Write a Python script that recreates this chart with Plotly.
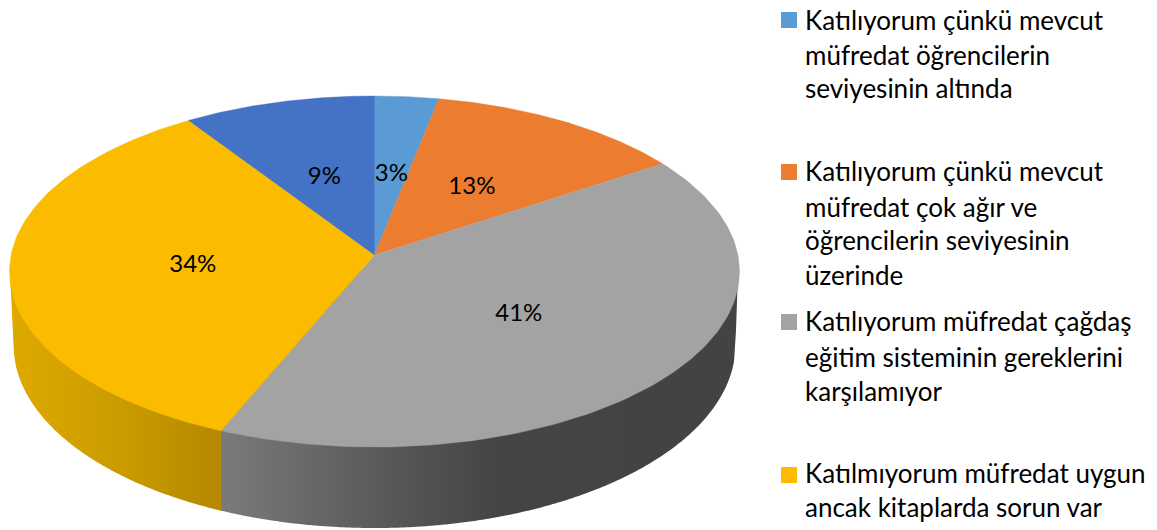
import numpy as np
import plotly.graph_objects as go

# ---- data ----
categories = [
    ["Katılıyorum çünkü mevcut", "müfredat öğrencilerin", "seviyesinin altında"],
    ["Katılıyorum çünkü mevcut", "müfredat çok ağır ve", "öğrencilerin seviyesinin", "üzerinde"],
    ["Katılıyorum müfredat çağdaş", "eğitim sisteminin gereklerini", "karşılamıyor"],
    ["Katılmıyorum müfredat uygun", "ancak kitaplarda sorun var"],
    None,  # fifth entry is cut off in the reference
]
values = [3.1, 12.6, 40.6, 34.4, 9.3]
colors = ["#5B9BD5", "#EB7C30", "#A3A3A3", "#FBBC00", "#4472C4"]

# ---- layout / projection of the tilted pie ----
FONT = "Lato"
W, H = 1157, 530
CX = 374.5
K = 0.094
TOP = dict(y0=255.0, a=363.4, b=174.0)
BOT = dict(y0=327.8, a=359.4, b=181.4)
WALL_START_Y = 271.5
LEG_FS = 26
LAB_FS = 24
LAB_DY = 2.5
legend_line_y = [[20, 55, 88], [171, 207, 240, 275], [321, 357, 391], [473, 507]]
legend_marker_y = [20, 172, 322, 475]
LEG_MARK_X, LEG_TEXT_X = 789, 804

# side-wall shading stops: x pixel position -> colour
yellow_stops = ([0, 120, 222], [(224, 171, 0), (203, 155, 0), (180, 136, 0)])
gray_stops = ([222, 400, 500, 740], [(122, 122, 122), (86, 86, 86), (68, 68, 68), (67, 67, 67)])


def project(theta, r, p):
    u, v = r * np.sin(theta), r * np.cos(theta)
    d = 1 + K * v
    return CX + p["a"] * u / d, p["y0"] - p["b"] * v / d


def shade(x, stops):
    xs, cols = stops
    rgb = [int(round(np.interp(x, xs, [c[i] for c in cols]))) for i in range(3)]
    return "rgb(%d,%d,%d)" % tuple(rgb)


fractions = np.array(values) / sum(values)
edges = np.concatenate([[0], np.cumsum(fractions)]) * 2 * np.pi

fig = go.Figure()

# side wall: vertical strips between the middle of the top face and the lower outline
th = np.radians(np.linspace(60, 300, 961))
bx, by = project(th, 1, BOT)
front = by >= WALL_START_Y + 73
lx, ly = bx[front], by[front]
order = np.argsort(lx)
lx, ly = lx[order], ly[order]
left_x, right_x = 10, 738
lx = np.r_[left_x, lx, right_x]
ly = np.r_[WALL_START_Y, ly, WALL_START_Y]
boundary_x = int(round(project(edges[3], 1, TOP)[0]))

cuts = sorted(set(list(range(left_x, right_x + 1, 2)) + [boundary_x]))
strip_x, strip_y = {}, {}
for x0, x1 in zip(cuts[:-1], cuts[1:]):
    stops = yellow_stops if x0 < boundary_x else gray_stops
    col = shade((x0 + x1) / 2, stops)
    y0, y1 = np.interp([x0, x1], lx, ly)
    strip_x.setdefault(col, []).extend([x0, x1, x1, x0, x0, None])
    strip_y.setdefault(col, []).extend([WALL_START_Y, WALL_START_Y, y1, y0, WALL_START_Y, None])

for col in strip_x:
    fig.add_trace(go.Scatter(x=strip_x[col], y=strip_y[col], mode="lines", fill="toself",
                             fillcolor=col, line=dict(width=0), hoverinfo="skip",
                             showlegend=False))

# top face
for i, val in enumerate(values):
    t = np.linspace(edges[i], edges[i + 1], 120)
    px, py = project(t, 1, TOP)
    ax, ay = project(0.0, 0, TOP)
    fig.add_trace(go.Scatter(x=np.r_[ax, px, ax], y=np.r_[ay, py, ay], mode="lines",
                             fill="toself", fillcolor=colors[i],
                             line=dict(color=colors[i], width=0.4),
                             hoverinfo="skip", showlegend=False))

# percentage labels
for i, val in enumerate(values):
    x, y = project((edges[i] + edges[i + 1]) / 2, 0.5, TOP)
    fig.add_trace(go.Scatter(x=[x], y=[y + LAB_DY], mode="text", text=["%d%%" % round(val)],
                             textposition="middle center",
                             textfont=dict(family=FONT, size=LAB_FS, color="#000000"),
                             hoverinfo="skip", showlegend=False))

# legend
for i, lines in enumerate(categories):
    if lines is None:
        continue
    fig.add_trace(go.Scatter(x=[LEG_MARK_X], y=[legend_marker_y[i]], mode="markers",
                             marker=dict(symbol="square", size=16, color=colors[i]),
                             hoverinfo="skip", showlegend=False))
    for line, y in zip(lines, legend_line_y[i]):
        fig.add_annotation(x=LEG_TEXT_X, y=y, text=line, showarrow=False, xanchor="left",
                           yanchor="middle", xref="x", yref="y", borderpad=0,
                           font=dict(family=FONT, size=LEG_FS, color="#000000"))

fig.update_layout(
    width=W, height=H, margin=dict(l=0, r=0, t=0, b=0),
    paper_bgcolor="white", plot_bgcolor="white", showlegend=False,
    xaxis=dict(range=[0, W], visible=False, domain=[0, 1], fixedrange=True),
    yaxis=dict(range=[H, 0], visible=False, domain=[0, 1], fixedrange=True),
)
fig.write_html("out.html", config={"displayModeBar": False},
               post_script="document.body.style.margin='0';document.body.style.overflow='hidden';")
